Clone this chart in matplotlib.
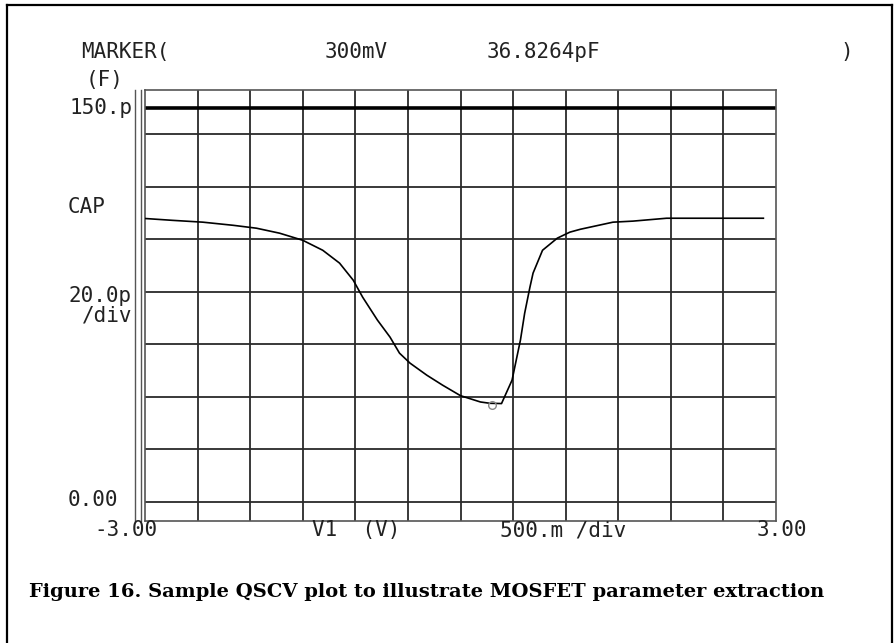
import matplotlib
matplotlib.use("Agg")
import matplotlib.pyplot as plt
from matplotlib.lines import Line2D
import numpy as np

# ---- data ----
volts = [-3.00, -2.74, -2.45, -2.16, -1.94, -1.72, -1.50, -1.31, -1.15, -1.02,
         -0.93, -0.79, -0.67, -0.58, -0.48, -0.32, -0.17, 0.00, 0.19, 0.28,
         0.39, 0.49, 0.57, 0.61, 0.66, 0.69, 0.78, 0.92, 1.04, 1.14,
         1.45, 1.64, 1.96, 2.88]
cap_pf = [108.0, 107.3, 106.6, 105.4, 104.3, 102.4, 99.7, 95.9, 91.0, 84.5,
          78.0, 69.3, 62.8, 56.7, 52.9, 48.3, 44.5, 40.5, 38.1, 37.6,
          37.5, 46.4, 61.7, 71.9, 81.8, 87.2, 95.9, 100.5, 102.8, 103.9,
          106.6, 107.0, 108.1, 108.1]
marker_v = 0.300
marker_c = 36.8264
ref_level = 150.0
x_ticks = [-3.0, -2.5, -2.0, -1.5, -1.0, -0.5, 0.0, 0.5, 1.0, 1.5, 2.0, 2.5, 3.0]
y_ticks = [0, 20, 40, 60, 80, 100, 120, 140]
caption = "Figure 16. Sample QSCV plot to illustrate MOSFET parameter extraction"

W, H = 894, 643
fig = plt.figure(figsize=(W / 100, H / 100), dpi=100)

def fx(px):
    return px / W

def fy(py):
    return 1 - py / H

# outer frame (open at bottom)
frame_kw = dict(color="black", lw=1.6, transform=fig.transFigure)
fig.add_artist(Line2D([fx(7), fx(7)], [fy(5), fy(643)], **frame_kw))
fig.add_artist(Line2D([fx(7), fx(892)], [fy(5), fy(5)], **frame_kw))
fig.add_artist(Line2D([fx(892), fx(892)], [fy(5), fy(643)], **frame_kw))

ax = fig.add_axes([fx(145), fy(521), (776 - 145) / W, (521 - 90) / H])
ax.set_xlim(-3, 3)
ax.set_ylim(-7.24, 156.95)
ax.set_xticks([])
ax.set_yticks([])
for s in ax.spines.values():
    s.set_color("#555555")
    s.set_linewidth(1.2)

grid_c = "#2a2a2a"
for xv in x_ticks[1:-1]:
    ax.axvline(xv, color=grid_c, lw=1.3, zorder=1)
for yv in y_ticks:
    ax.axhline(yv, color=grid_c, lw=1.3, zorder=1)
ax.axhline(ref_level, color="black", lw=2.6, zorder=2)

ax.plot(volts, cap_pf, color="black", lw=1.2, zorder=3)
ax.plot([marker_v], [marker_c], marker="o", ms=5.5, mfc="none", mec="#888888",
        mew=1.0, zorder=4)

# double line at left of plot area
for xv in (-3.095, -3.04):
    ax.add_line(Line2D([xv, xv], [-7.24, 156.95], color="#555555", lw=1.0,
                       clip_on=False))

mono = dict(family="DejaVu Sans Mono", fontsize=15, color="#222222",
            va="center", ha="left")

def t(px, py, s, **kw):
    d = dict(mono)
    d.update(kw)
    fig.text(fx(px), fy(py), s, **d)

t(81, 52, "MARKER(")
t(325, 52, "300mV")
t(487, 52, "36.8264pF")
t(840, 52, ")")
t(86, 80, "(F)")
t(69, 108, "150.p")
t(68, 207, "CAP")
t(68, 296, "20.0p")
t(82, 316, "/div")
t(68, 500, "0.00")
t(94, 530, "-3.00")
t(312, 530, "V1  (V)")
t(500, 530, "500.m /div")
t(757, 530, "3.00")

fig.text(fx(29), fy(592), caption, family="DejaVu Serif", fontweight="bold",
         fontsize=14, color="black", va="center", ha="left")

fig.savefig("out.png", dpi=100)
